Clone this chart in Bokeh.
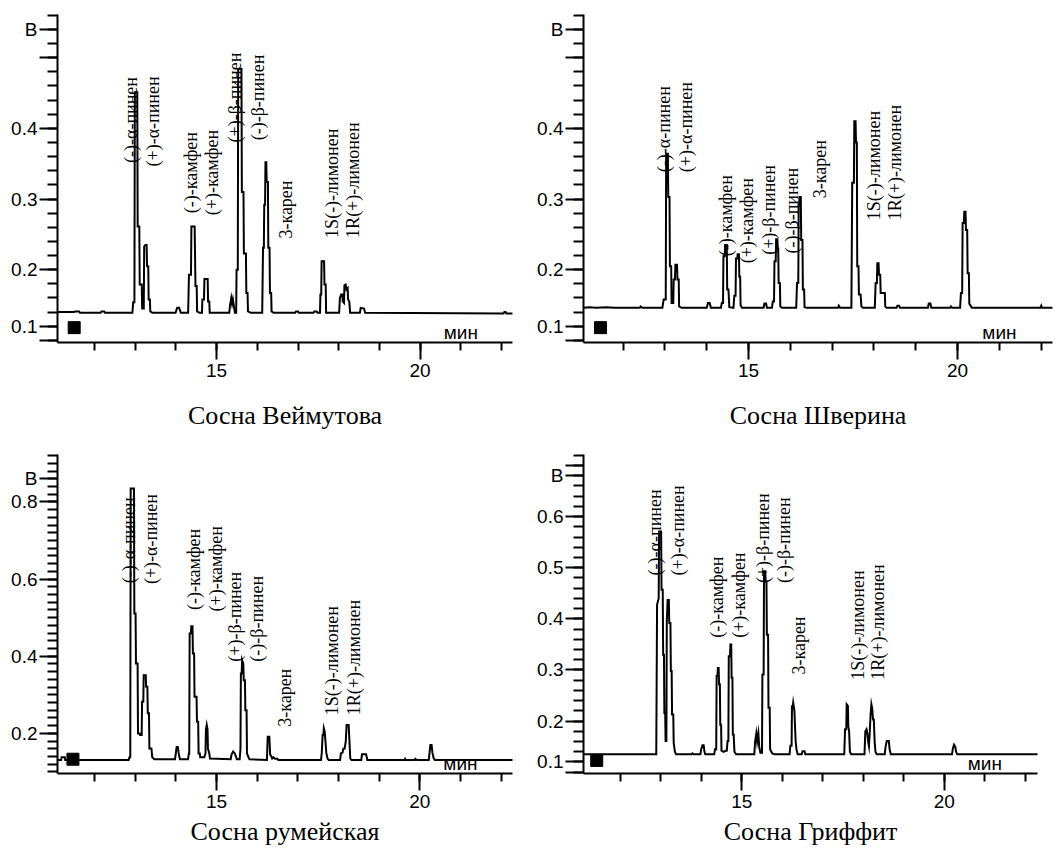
import math
import numpy as np
from bokeh.plotting import figure
from bokeh.layouts import column, row
from bokeh.models import (ColumnDataSource, FixedTicker, SingleIntervalTicker,
                          Range1d, Title)
from bokeh.core.properties import value
from bokeh.embed import file_html
from bokeh.resources import INLINE

# ---------------- data ----------------
peak_names = ["(-)-α-пинен", "(+)-α-пинен", "(-)-камфен", "(+)-камфен",
              "(+)-β-пинен", "(-)-β-пинен", "3-карен",
              "1S(-)-лимонен", "1R(+)-лимонен"]

titles = ["Сосна Веймутова", "Сосна Шверина", "Сосна румейская", "Сосна Гриффит"]
y_unit = "В"
x_unit = "мин"
x_unit_t = 21.0
x_unit_v = [0.111, 0.111, 0.122, 0.117]   # per panel, just above the time axis

# chromatogram traces: (time, min ; signal, V)
weymouth = [
    (11.09, 0.140), (11.50, 0.140), (11.52, 0.141), (11.62, 0.141), (11.64, 0.139),
    (12.15, 0.139), (12.17, 0.141), (12.24, 0.141), (12.26, 0.139),
    (12.93, 0.139), (12.95, 0.154), (12.98, 0.154), (12.99, 0.451), (13.05, 0.451),
    (13.06, 0.261), (13.10, 0.261), (13.11, 0.179), (13.16, 0.179), (13.17, 0.145),
    (13.21, 0.145), (13.22, 0.233), (13.25, 0.235), (13.28, 0.235), (13.29, 0.205),
    (13.32, 0.205), (13.33, 0.158), (13.36, 0.158), (13.37, 0.141), (13.42, 0.139),
    (13.99, 0.139), (14.03, 0.146), (14.08, 0.146), (14.12, 0.139),
    (14.30, 0.139), (14.32, 0.193), (14.37, 0.193), (14.38, 0.261), (14.46, 0.261),
    (14.48, 0.177), (14.51, 0.177), (14.52, 0.141), (14.58, 0.139),
    (14.64, 0.139), (14.65, 0.158), (14.69, 0.158), (14.70, 0.187), (14.78, 0.187),
    (14.79, 0.155), (14.82, 0.155), (14.83, 0.139),
    (15.31, 0.139), (15.33, 0.150), (15.36, 0.160), (15.38, 0.152), (15.40, 0.158),
    (15.42, 0.150), (15.45, 0.139), (15.48, 0.139), (15.49, 0.200), (15.52, 0.200),
    (15.53, 0.484), (15.61, 0.484), (15.62, 0.310), (15.66, 0.310), (15.67, 0.223),
    (15.72, 0.223), (15.73, 0.167), (15.76, 0.167), (15.77, 0.141), (15.84, 0.139),
    (16.12, 0.139), (16.14, 0.231), (16.16, 0.231), (16.17, 0.292), (16.19, 0.292),
    (16.20, 0.352), (16.22, 0.352), (16.23, 0.324), (16.26, 0.324), (16.27, 0.231),
    (16.30, 0.231), (16.31, 0.167), (16.34, 0.167), (16.35, 0.141), (16.40, 0.139),
    (16.93, 0.139), (16.95, 0.141), (17.00, 0.141), (17.02, 0.139),
    (17.38, 0.139), (17.40, 0.141), (17.46, 0.141), (17.48, 0.139),
    (17.54, 0.139), (17.55, 0.165), (17.57, 0.165), (17.58, 0.212), (17.64, 0.212),
    (17.65, 0.179), (17.68, 0.179), (17.69, 0.139),
    (18.01, 0.139), (18.03, 0.160), (18.06, 0.165), (18.09, 0.165), (18.10, 0.155),
    (18.13, 0.153), (18.14, 0.178), (18.17, 0.179), (18.19, 0.172), (18.22, 0.174),
    (18.23, 0.158), (18.26, 0.155), (18.28, 0.139),
    (18.52, 0.139), (18.54, 0.146), (18.62, 0.145), (18.65, 0.139),
    (22.05, 0.138), (22.07, 0.140), (22.10, 0.140), (22.12, 0.138), (22.30, 0.138),
]

schwerin = [
    (11.05, 0.146), (11.20, 0.147), (11.35, 0.146), (11.60, 0.147), (11.80, 0.146),
    (12.40, 0.146), (12.42, 0.148), (12.46, 0.146),
    (12.94, 0.146), (12.97, 0.158), (13.02, 0.158), (13.03, 0.364), (13.07, 0.364),
    (13.08, 0.303), (13.11, 0.303), (13.12, 0.205), (13.15, 0.205), (13.16, 0.153),
    (13.20, 0.153), (13.21, 0.186), (13.24, 0.186), (13.25, 0.207), (13.29, 0.207),
    (13.30, 0.186), (13.33, 0.186), (13.34, 0.148), (13.40, 0.146),
    (14.00, 0.146), (14.03, 0.153), (14.07, 0.153), (14.10, 0.146),
    (14.34, 0.146), (14.36, 0.153), (14.39, 0.153), (14.40, 0.219), (14.43, 0.219),
    (14.44, 0.235), (14.48, 0.235), (14.49, 0.172), (14.52, 0.172), (14.54, 0.147),
    (14.64, 0.146), (14.66, 0.163), (14.69, 0.163), (14.70, 0.216), (14.73, 0.216),
    (14.74, 0.222), (14.77, 0.222), (14.78, 0.190), (14.80, 0.190), (14.81, 0.150),
    (14.84, 0.146),
    (15.36, 0.146), (15.38, 0.152), (15.42, 0.152), (15.44, 0.146),
    (15.56, 0.146), (15.58, 0.155), (15.61, 0.155), (15.62, 0.212), (15.65, 0.212),
    (15.66, 0.243), (15.69, 0.243), (15.70, 0.230), (15.71, 0.230), (15.72, 0.181),
    (15.75, 0.181), (15.76, 0.148), (15.80, 0.146),
    (16.14, 0.146), (16.16, 0.181), (16.19, 0.181), (16.20, 0.291), (16.21, 0.291),
    (16.22, 0.303), (16.25, 0.303), (16.26, 0.242), (16.29, 0.242), (16.30, 0.172),
    (16.33, 0.172), (16.34, 0.147), (16.40, 0.146),
    (17.14, 0.146), (17.16, 0.149), (17.19, 0.146),
    (17.46, 0.146), (17.48, 0.323), (17.52, 0.323), (17.53, 0.410), (17.56, 0.410),
    (17.57, 0.380), (17.59, 0.380), (17.60, 0.205), (17.63, 0.205), (17.64, 0.165),
    (17.68, 0.165), (17.70, 0.148), (17.74, 0.146),
    (18.02, 0.146), (18.04, 0.181), (18.07, 0.181), (18.08, 0.209), (18.11, 0.209),
    (18.12, 0.193), (18.15, 0.193), (18.16, 0.167), (18.26, 0.167), (18.27, 0.148),
    (18.30, 0.146),
    (18.54, 0.146), (18.56, 0.149), (18.60, 0.149), (18.62, 0.146),
    (19.29, 0.146), (19.31, 0.152), (19.35, 0.152), (19.37, 0.146),
    (19.82, 0.146), (19.84, 0.148), (19.87, 0.146),
    (20.06, 0.146), (20.08, 0.167), (20.11, 0.167), (20.12, 0.266), (20.15, 0.266),
    (20.16, 0.282), (20.19, 0.282), (20.20, 0.256), (20.23, 0.256), (20.24, 0.195),
    (20.27, 0.195), (20.28, 0.152), (20.34, 0.146),
    (21.98, 0.146), (22.00, 0.149), (22.02, 0.146), (22.30, 0.146),
]

rumelian = [
    (11.09, 0.131), (11.18, 0.131), (11.19, 0.138), (11.27, 0.138), (11.28, 0.131),
    (12.84, 0.131), (12.86, 0.138), (12.88, 0.138), (12.89, 0.835), (12.97, 0.835),
    (12.98, 0.511), (13.01, 0.511), (13.02, 0.381), (13.06, 0.381), (13.07, 0.200),
    (13.11, 0.200), (13.12, 0.196), (13.16, 0.196), (13.17, 0.282), (13.20, 0.282),
    (13.21, 0.351), (13.26, 0.351), (13.27, 0.321), (13.30, 0.321), (13.31, 0.252),
    (13.34, 0.252), (13.35, 0.161), (13.40, 0.161), (13.42, 0.138), (13.47, 0.133),
    (13.98, 0.133), (14.00, 0.148), (14.02, 0.165), (14.05, 0.165), (14.07, 0.148),
    (14.10, 0.133),
    (14.30, 0.133), (14.32, 0.148), (14.33, 0.148), (14.34, 0.459), (14.37, 0.459),
    (14.38, 0.478), (14.41, 0.478), (14.42, 0.407), (14.45, 0.407), (14.46, 0.295),
    (14.51, 0.295), (14.52, 0.230), (14.55, 0.230), (14.56, 0.148), (14.59, 0.148),
    (14.60, 0.138),
    (14.70, 0.138), (14.73, 0.148), (14.74, 0.210), (14.76, 0.222), (14.78, 0.210),
    (14.79, 0.160), (14.82, 0.150), (14.84, 0.135),
    (15.35, 0.133), (15.37, 0.145), (15.41, 0.153), (15.45, 0.148), (15.48, 0.140),
    (15.50, 0.133),
    (15.57, 0.133), (15.59, 0.160), (15.60, 0.355), (15.62, 0.355), (15.63, 0.390),
    (15.66, 0.380), (15.67, 0.338), (15.70, 0.338), (15.71, 0.260), (15.74, 0.260),
    (15.75, 0.148), (15.78, 0.140), (15.81, 0.133),
    (16.24, 0.131), (16.26, 0.191), (16.30, 0.191), (16.32, 0.145), (16.35, 0.140),
    (16.37, 0.135), (16.40, 0.138), (16.44, 0.134), (16.50, 0.134), (16.52, 0.131),
    (17.57, 0.131), (17.59, 0.150), (17.61, 0.196), (17.63, 0.196), (17.64, 0.213),
    (17.66, 0.205), (17.68, 0.180), (17.70, 0.150), (17.73, 0.135), (17.76, 0.131),
    (18.04, 0.131), (18.06, 0.148), (18.10, 0.150), (18.12, 0.160), (18.15, 0.160),
    (18.18, 0.180), (18.20, 0.222), (18.25, 0.222), (18.27, 0.180), (18.29, 0.135),
    (18.32, 0.131),
    (18.56, 0.131), (18.58, 0.146), (18.68, 0.146), (18.71, 0.131),
    (19.63, 0.131), (19.64, 0.134), (19.66, 0.131), (19.88, 0.131), (19.89, 0.134),
    (19.93, 0.131),
    (20.22, 0.131), (20.24, 0.150), (20.26, 0.170), (20.29, 0.170), (20.31, 0.150),
    (20.34, 0.136), (20.37, 0.131),
    (22.30, 0.131),
]

griffith = [
    (11.09, 0.135),
    (12.89, 0.135), (12.91, 0.428), (12.95, 0.440), (12.96, 0.571), (13.01, 0.571),
    (13.02, 0.457), (13.05, 0.457), (13.06, 0.330), (13.08, 0.330), (13.09, 0.216),
    (13.11, 0.216), (13.12, 0.161), (13.14, 0.161), (13.15, 0.395), (13.17, 0.437),
    (13.20, 0.437), (13.21, 0.392), (13.24, 0.392), (13.25, 0.298), (13.27, 0.298),
    (13.28, 0.213), (13.31, 0.213), (13.32, 0.158), (13.35, 0.140), (13.38, 0.135),
    (13.76, 0.135), (13.78, 0.137), (13.81, 0.135),
    (13.98, 0.135), (14.00, 0.145), (14.03, 0.153), (14.06, 0.153), (14.08, 0.140),
    (14.10, 0.135),
    (14.32, 0.135), (14.34, 0.145), (14.37, 0.145), (14.38, 0.288), (14.40, 0.288),
    (14.41, 0.304), (14.43, 0.304), (14.44, 0.272), (14.46, 0.272), (14.47, 0.193),
    (14.49, 0.193), (14.50, 0.142), (14.55, 0.140), (14.60, 0.142),
    (14.63, 0.142), (14.65, 0.161), (14.67, 0.161), (14.68, 0.327), (14.71, 0.327),
    (14.72, 0.350), (14.74, 0.350), (14.75, 0.285), (14.77, 0.285), (14.78, 0.174),
    (14.80, 0.174), (14.82, 0.140), (14.86, 0.135),
    (15.31, 0.135), (15.33, 0.160), (15.36, 0.176), (15.38, 0.160), (15.41, 0.176),
    (15.43, 0.150), (15.46, 0.138), (15.49, 0.138),
    (15.50, 0.138), (15.51, 0.291), (15.54, 0.291), (15.55, 0.493), (15.58, 0.493),
    (15.59, 0.473), (15.61, 0.473), (15.62, 0.369), (15.65, 0.369), (15.66, 0.226),
    (15.69, 0.226), (15.70, 0.145), (15.75, 0.137), (15.80, 0.135),
    (16.18, 0.135), (16.20, 0.152), (16.23, 0.152), (16.24, 0.229), (16.26, 0.229),
    (16.27, 0.236), (16.30, 0.220), (16.31, 0.200), (16.33, 0.161), (16.35, 0.145),
    (16.38, 0.135), (16.48, 0.135), (16.50, 0.141), (16.55, 0.141), (16.57, 0.135),
    (17.53, 0.135), (17.55, 0.184), (17.58, 0.184), (17.59, 0.233), (17.62, 0.230),
    (17.63, 0.190), (17.65, 0.180), (17.67, 0.140), (17.70, 0.135),
    (18.03, 0.135), (18.05, 0.180), (18.08, 0.184), (18.10, 0.175), (18.12, 0.160),
    (18.14, 0.151), (18.16, 0.180), (18.18, 0.213), (18.20, 0.233), (18.22, 0.225),
    (18.24, 0.203), (18.26, 0.203), (18.28, 0.160), (18.30, 0.140), (18.33, 0.135),
    (18.53, 0.135), (18.55, 0.150), (18.58, 0.161), (18.63, 0.161), (18.65, 0.145),
    (18.68, 0.135),
    (20.19, 0.135), (20.21, 0.146), (20.24, 0.154), (20.27, 0.150), (20.29, 0.140),
    (20.32, 0.135),
    (22.32, 0.135),
]

# peak label anchors (time, signal) in the order of peak_names
weymouth_lbl_t = [12.89, 13.43, 14.36, 14.88, 15.44, 16.01, 16.70, 17.83, 18.34]
weymouth_lbl_v = [0.351, 0.346, 0.280, 0.277, 0.380, 0.383, 0.244, 0.245, 0.245]
schwerin_lbl_t = [12.98, 13.50, 14.46, 14.96, 15.50, 16.04, 16.70, 18.00, 18.50]
schwerin_lbl_v = [0.338, 0.338, 0.219, 0.209, 0.221, 0.223, 0.301, 0.270, 0.270]
rumelian_lbl_t = [12.86, 13.39, 14.44, 14.98, 15.45, 15.99, 16.69, 17.84, 18.38]
rumelian_lbl_v = [0.589, 0.587, 0.520, 0.516, 0.386, 0.386, 0.217, 0.247, 0.247]
griffith_lbl_t = [12.87, 13.43, 14.40, 14.93, 15.52, 16.04, 16.42, 17.87, 18.37]
griffith_lbl_v = [0.485, 0.485, 0.363, 0.363, 0.470, 0.470, 0.291, 0.281, 0.281]

# black square marker (time, signal)
marker_t = [11.50, 11.46, 11.47, 11.42]
marker_v = [0.118, 0.118, 0.133, 0.123]

# signal axis: major tick positions and the text printed at each (as in the original)
yt_a = [0.1, 0.12, 0.2, 0.3, 0.4, 0.5, 0.54]
yl_a = ["", "0.1", "0.2", "0.3", "0.4", "", y_unit]
yt_b = [0.2, 0.4, 0.6, 0.8, 0.86]
yl_b = ["0.2", "0.4", "0.6", "0.8", y_unit]
yt_c = [0.1, 0.12, 0.2, 0.3, 0.4, 0.5, 0.6, 0.68, 0.7]
yl_c = ["", "0.1", "0.2", "0.3", "0.4", "0.5", "0.6", y_unit, ""]

SANS = "Liberation Sans"
SERIF = "Liberation Serif"


def style_axis(ax, tout, mout, standoff):
    ax.axis_line_width = 2
    ax.axis_line_color = "black"
    ax.major_tick_line_width = 2
    ax.minor_tick_line_width = 2
    ax.major_tick_line_color = "black"
    ax.minor_tick_line_color = "black"
    ax.major_tick_in = 0
    ax.minor_tick_in = 0
    ax.major_tick_out = tout
    ax.minor_tick_out = mout
    ax.major_label_standoff = standoff
    ax.major_label_text_font = SANS
    ax.major_label_text_font_size = "19px"
    ax.major_label_text_color = "black"


def make_panel(trace, lbl_t, lbl_v, mk, unit_v, title, xr, yr, ymajor, ylabels,
               yminor, width, height, borders, title_standoff):
    bl, br, bt, bb = borders
    p = figure(width=width, height=height, output_backend="svg",
               toolbar_location=None, x_range=Range1d(*xr), y_range=Range1d(*yr),
               min_border_left=bl, min_border_right=br,
               min_border_top=bt, min_border_bottom=bb)
    p.outline_line_color = None
    p.background_fill_color = "white"
    p.border_fill_color = "white"
    p.xgrid.visible = False
    p.ygrid.visible = False

    xa = p.xaxis[0]
    xa.ticker = SingleIntervalTicker(interval=5, num_minor_ticks=5)
    style_axis(xa, 17, 8, 4)

    ya = p.yaxis[0]
    ya.ticker = FixedTicker(ticks=ymajor, minor_ticks=yminor)
    ya.major_label_overrides = dict(zip(ymajor, ylabels))
    style_axis(ya, 18, 10, 2)

    p.add_layout(Title(text=title, align="center", vertical_align="bottom",
                       text_font=SERIF, text_font_size="26px",
                       text_font_style="normal", text_color="black",
                       standoff=title_standoff), "below")

    tt = [a for a, b in trace]
    vv = [b for a, b in trace]
    p.line(tt, vv, line_width=2, line_color="black", line_join="miter")

    p.scatter([mk[0]], [mk[1]], marker="square", size=12,
              fill_color="black", line_color="black")

    src = ColumnDataSource(dict(x=lbl_t, y=lbl_v, text=peak_names))
    p.text(x="x", y="y", text="text", source=src, angle=math.pi / 2,
           text_align="left", text_baseline="middle",
           text_font=value(SERIF), text_font_size="18px", text_color="black")

    p.text(x=[x_unit_t], y=[unit_v], text=[x_unit], text_align="center",
           text_baseline="middle", text_font=value(SANS),
           text_font_size="19px", text_color="black")
    return p


minor_a = [round(v, 2) for v in np.arange(0.10, 0.5601, 0.02)]
minor_b = [round(v, 2) for v in np.arange(0.10, 0.9201, 0.02)]
minor_c = [round(v, 2) for v in np.arange(0.10, 0.7201, 0.02)]

p1 = make_panel(weymouth, weymouth_lbl_t, weymouth_lbl_v, (marker_t[0], marker_v[0]),
                x_unit_v[0], titles[0], (11.09, 22.27), (0.097, 0.561), yt_a, yl_a,
                minor_a, 534, 454, (57, 22, 14, 111), 38)
p2 = make_panel(schwerin, schwerin_lbl_t, schwerin_lbl_v, (marker_t[1], marker_v[1]),
                x_unit_v[1], titles[1], (11.053, 22.27), (0.097, 0.561), yt_a, yl_a,
                minor_a, 527, 454, (49, 9, 14, 112), 38)
p3 = make_panel(rumelian, rumelian_lbl_t, rumelian_lbl_v, (marker_t[2], marker_v[2]),
                x_unit_v[2], titles[2], (11.09, 22.28), (0.096, 0.923), yt_b, yl_b,
                minor_b, 534, 400, (57, 22, 0, 81), 8)
p4 = make_panel(griffith, griffith_lbl_t, griffith_lbl_v, (marker_t[3], marker_v[3]),
                x_unit_v[3], titles[3], (11.094, 22.30), (0.0975, 0.7215), yt_c, yl_c,
                minor_c, 527, 400, (49, 24, 0, 81), 8)

layout = column(row(p1, p2), row(p3, p4))
open("out.html", "w").write(file_html(layout, INLINE))
